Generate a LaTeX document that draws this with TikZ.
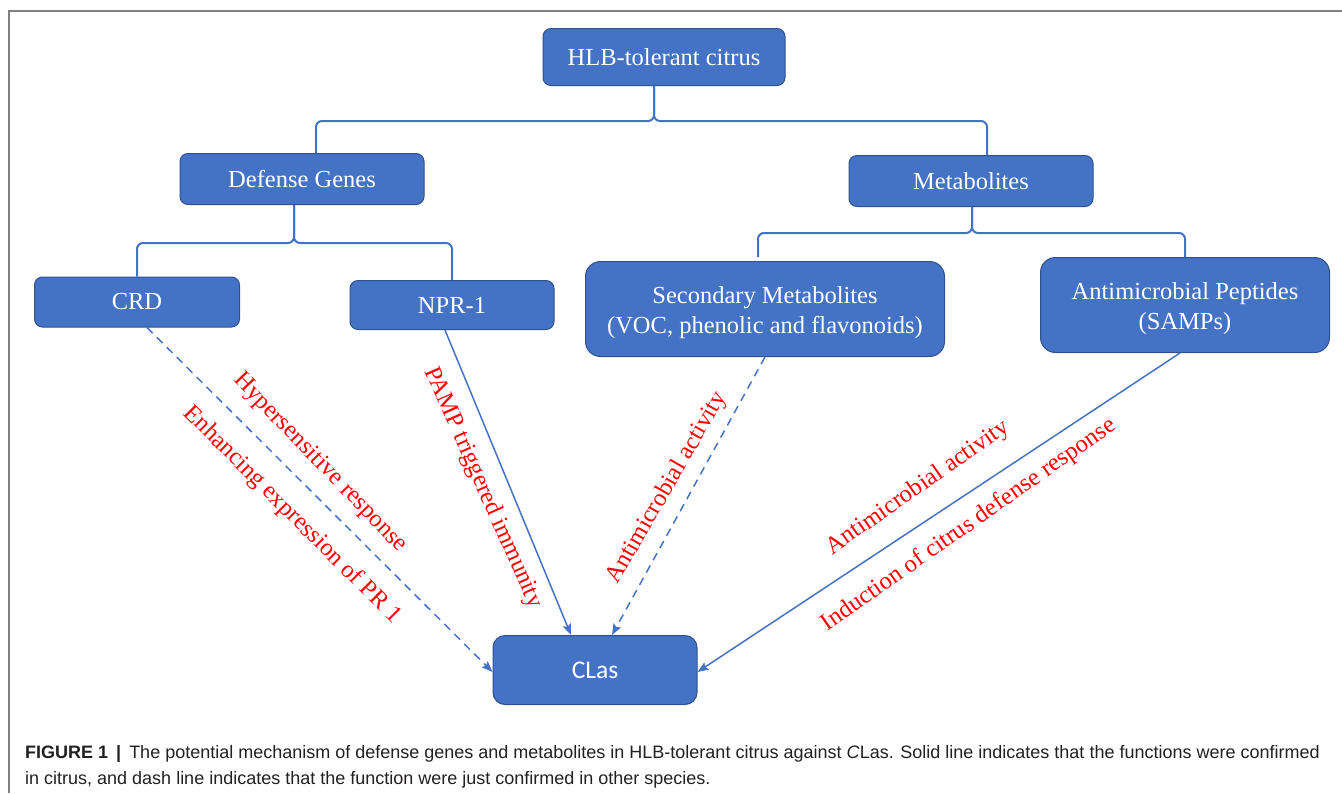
\documentclass[tikz,border=0pt]{standalone}
\usepackage{fontspec}
\setmainfont{Liberation Serif}
\newfontfamily\capfont{Liberation Sans}
\newfontfamily\clasfont{Carlito}
\usetikzlibrary{arrows.meta,calc}
\definecolor{boxblue}{HTML}{4472C4}
\definecolor{boxedge}{HTML}{2F528F}
\definecolor{capgray}{HTML}{231F20}
\definecolor{framegray}{HTML}{808080}
\tikzset{
  box/.style={rectangle, rounded corners=8pt, fill=boxblue, draw=boxedge, line width=1pt,
    text=white, font=\fontsize{24.5}{30}\selectfont, inner sep=0pt, align=center},
  boxtext/.style={text=white, font=\fontsize{24.5}{30}\selectfont, inner sep=0pt, align=center},
  lab/.style={text=red, font=\fontsize{24.5}{26}\selectfont, inner sep=0pt},
  brace/.style={draw=boxblue, line width=2pt, rounded corners=6pt},
  conn/.style={draw=boxblue, line width=1.5pt, -{Stealth[length=11pt,width=8.5pt,inset=2pt]}},
  dashconn/.style={conn, dash pattern=on 8pt off 6pt},
  captext/.style={anchor=base west, inner sep=0pt, text=capgray, font=\capfont\fontsize{18}{20}\selectfont}
}
\begin{document}
\begin{tikzpicture}[x=1pt,y=-1pt]
\useasboundingbox (0,0) rectangle (1342,793);
\draw[framegray, line width=1.5pt] (1342,11) -- (9,11) -- (9,793);

% boxes
\node[box, minimum width=242pt, minimum height=57pt] (hlb) at (664,57) {HLB-tolerant citrus};
\node[box, minimum width=244pt, minimum height=51pt] (dg) at (302,179) {Defense Genes};
\node[box, minimum width=244pt, minimum height=51pt] (mb) at (971,181) {Metabolites};
\node[box, minimum width=205pt, minimum height=50pt] (crd) at (137,302) {CRD};
\node[box, minimum width=204pt, minimum height=49pt] (npr) at (452,305) {NPR-1};
\node[box, rounded corners=15pt, minimum width=359pt, minimum height=95pt] (sec) at (765,309) {};
\node[boxtext] (sectext) at ([yshift=-4pt]sec.center) {Secondary Metabolites\\(VOC, phenolic and flavonoids)};
\node[box, rounded corners=15pt, minimum width=289pt, minimum height=95pt] (amp) at (1185,305) {};
\node[boxtext] (amptext) at ([yshift=-4pt]amp.center) {Antimicrobial Peptides\\(SAMPs)};
\node[box, rounded corners=12pt, minimum width=204pt, minimum height=69pt, font=\clasfont\fontsize{25.5}{28}\selectfont] (clas) at (595,670) {CLas};

% braces
\draw[brace] ([xshift=14pt]dg.north) |- ([xshift=-10pt,yshift=-35pt]hlb.south) -- ([xshift=-10pt]hlb.south);
\draw[brace] ([xshift=16pt]mb.north) |- ([xshift=-10pt,yshift=-35pt]hlb.south) -- ([xshift=-10pt]hlb.south);
\draw[brace] (crd.north) |- ([xshift=-8pt,yshift=-38pt]dg.south) -- ([xshift=-8pt]dg.south);
\draw[brace] (npr.north) |- ([xshift=-8pt,yshift=-38pt]dg.south) -- ([xshift=-8pt]dg.south);
\draw[brace] ([xshift=-7pt,yshift=4pt]sec.north) |- ([xshift=1pt,yshift=-26pt]mb.south) -- ([xshift=1pt]mb.south);
\draw[brace] (amp.north) |- ([xshift=1pt,yshift=-26pt]mb.south) -- ([xshift=1pt]mb.south);

% connectors
\draw[dashconn] ([xshift=10pt]crd.south) -- ([yshift=-2pt]clas.west);
\draw[conn] ([xshift=-7pt]npr.south) -- ([xshift=-24pt]clas.north);
\draw[dashconn] (sec.south) -- ([xshift=17pt]clas.north);
\draw[conn] ([xshift=-5pt]amp.south) -- ([yshift=-2pt]clas.east);

% labels
\node[lab, rotate=-46] (l1) at (320,463) {Hypersensitive response};
\node[lab, rotate=-45] (l2) at (292,515) {Enhancing expression of PR 1};
\node[lab, rotate=-66] (l3) at (483,488) {PAMP triggered immunity};
\node[lab, rotate=60] (l4) at (667,488) {Antimicrobial activity};
\node[lab, rotate=35] (l5) at (918,488) {Antimicrobial activity};
\node[lab, rotate=35] (l6) at (969,525) {Induction of citrus defense response};

% caption
\node[captext] (cap1) at (25,758) {\textbf{FIGURE 1 \,|\,} The potential mechanism of defense genes and metabolites in HLB-tolerant citrus against \textit{C}Las. Solid line indicates that the functions were confirmed};
\node[captext] (cap2) at (25,784) {in citrus, and dash line indicates that the function were just confirmed in other species.};
\end{tikzpicture}
\end{document}
